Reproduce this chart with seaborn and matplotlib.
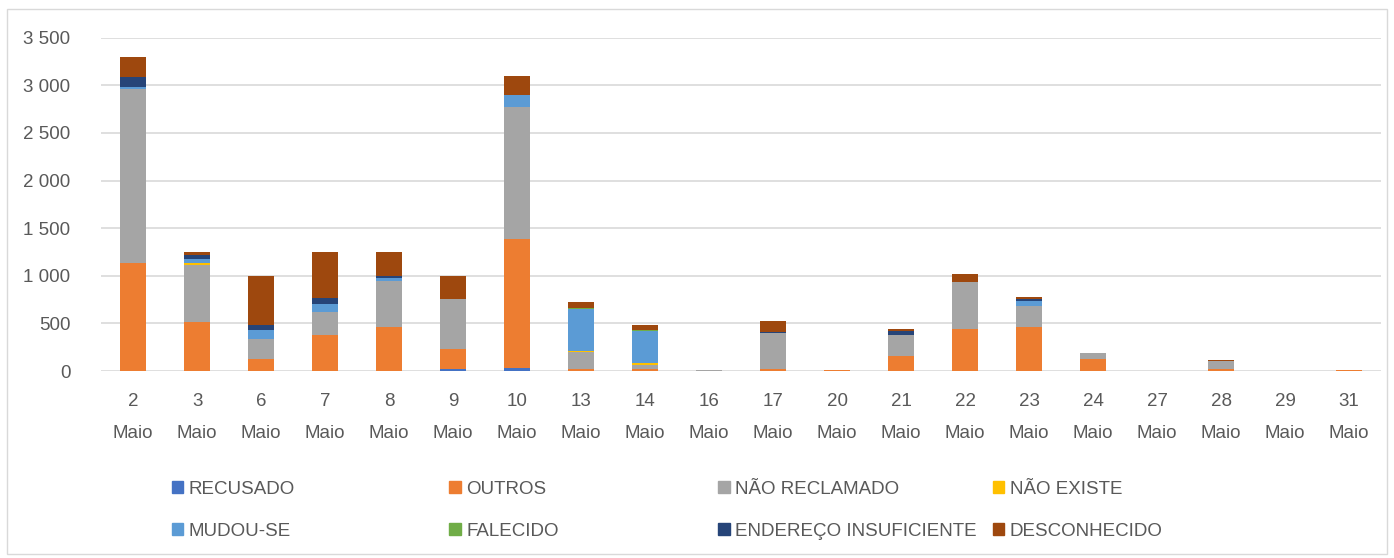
import numpy as np
import pandas as pd
import matplotlib
matplotlib.use("Agg")
import matplotlib.pyplot as plt
import seaborn as sns
from matplotlib.ticker import FuncFormatter
from matplotlib.patches import Patch, Rectangle

# ==========================================
# dados
# ==========================================
dias = ["2", "3", "6", "7", "8", "9", "10", "13", "14", "16",
        "17", "20", "21", "22", "23", "24", "27", "28", "29", "31"]

recusado       = [0, 0, 0, 0, 0, 20, 32, 0, 0, 0, 0, 0, 0, 0, 0, 0, 0, 0, 0, 0]
outros         = [1130, 518, 123, 382, 459, 208, 1352, 18, 21, 0, 18, 14, 161, 438, 459, 126, 4, 24, 3, 6]
nao_reclamado  = [1830, 596, 210, 235, 484, 528, 1387, 181, 45, 8, 378, 0, 213, 494, 227, 63, 0, 84, 0, 0]
nao_existe     = [0, 20, 0, 0, 0, 0, 0, 8, 15, 0, 0, 0, 0, 0, 0, 0, 0, 0, 0, 0]
mudou_se       = [20, 40, 101, 90, 34, 0, 127, 444, 339, 0, 0, 0, 6, 0, 53, 0, 0, 0, 0, 0]
falecido       = [0, 0, 0, 0, 0, 0, 0, 11, 11, 0, 0, 0, 0, 0, 0, 0, 0, 0, 0, 0]
endereco_insuf = [108, 45, 53, 57, 18, 0, 5, 0, 0, 0, 17, 0, 37, 0, 18, 0, 0, 0, 0, 0]
desconhecido   = [207, 32, 508, 487, 256, 239, 197, 60, 52, 0, 112, 0, 28, 87, 21, 0, 0, 8, 0, 0]

series = {
    "RECUSADO": recusado,
    "OUTROS": outros,
    "NÃO RECLAMADO": nao_reclamado,
    "NÃO EXISTE": nao_existe,
    "MUDOU-SE": mudou_se,
    "FALECIDO": falecido,
    "ENDEREÇO INSUFICIENTE": endereco_insuf,
    "DESCONHECIDO": desconhecido,
}
cores = {
    "RECUSADO": "#4472C4",
    "OUTROS": "#ED7D31",
    "NÃO RECLAMADO": "#A5A5A5",
    "NÃO EXISTE": "#FFC000",
    "MUDOU-SE": "#5B9BD5",
    "FALECIDO": "#70AD47",
    "ENDEREÇO INSUFICIENTE": "#264478",
    "DESCONHECIDO": "#9E480E",
}

rotulos = [f"{d}\nMaio" for d in dias]

# ==========================================
# gráfico
# ==========================================
sns.set_theme(style="white")
plt.rcParams["font.family"] = ["Liberation Sans", "DejaVu Sans"]

fig = plt.figure(figsize=(13.94, 5.58), dpi=100)
ax = fig.add_axes([0.0725, 0.3351, 0.9182, 0.5973])

base = np.zeros(len(dias))
for nome, vals in series.items():
    df = pd.DataFrame({"dia": rotulos, "valor": vals})
    sns.barplot(data=df, x="dia", y="valor", bottom=base, color=cores[nome],
                width=0.4, ax=ax, saturation=1, linewidth=0, errorbar=None)
    base = base + np.array(vals)

ax.set_ylim(0, 3500)
ax.set_xlim(-0.5, len(dias) - 0.5)
ax.set_yticks(np.arange(0, 3501, 500))
ax.yaxis.set_major_formatter(FuncFormatter(lambda v, p: f"{int(v):,}".replace(",", " ")))
ax.grid(axis="y", color="#d9d9d9", linewidth=1.2)
ax.set_axisbelow(True)
for s in ax.spines.values():
    s.set_visible(False)
ax.set_xlabel("")
ax.set_ylabel("")
ax.tick_params(axis="y", length=0, pad=22, labelsize=13.5, labelcolor="#595959")
ax.tick_params(axis="x", length=0, pad=16, labelsize=13.5, labelcolor="#595959")
for t in ax.get_xticklabels():
    t.set_linespacing(2.1)

# legenda em 4 colunas
nomes = list(series.keys())
xs = [0.118, 0.317, 0.510, 0.707]
for i in range(4):
    hs = [Patch(color=cores[nomes[i]], label=nomes[i]),
          Patch(color=cores[nomes[i + 4]], label=nomes[i + 4])]
    fig.legend(handles=hs, loc="upper left", bbox_to_anchor=(xs[i], 0.152),
               bbox_transform=fig.transFigure, frameon=False, fontsize=13.5,
               labelcolor="#595959", handlelength=0.6, handleheight=0.6,
               handletextpad=0.3, labelspacing=1.35, borderaxespad=0)

# moldura do gráfico
fig.patches.append(Rectangle((0.005, 0.008), 0.99, 0.976, transform=fig.transFigure,
                             fill=False, edgecolor="#d9d9d9", linewidth=1))

plt.savefig("out.png", dpi=100)
